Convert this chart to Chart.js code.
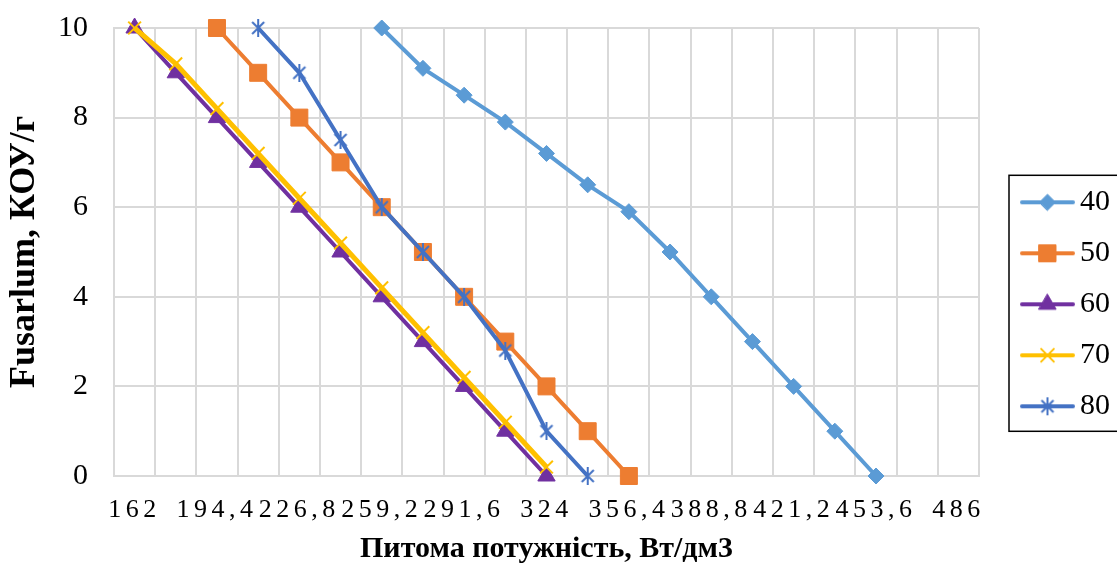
<!DOCTYPE html>
<html lang="uk">
<head>
<meta charset="utf-8">
<title>Fusarium</title>
<script src="https://cdn.jsdelivr.net/npm/chart.js@4.4.1/dist/chart.umd.min.js"></script>
<style>
  html, body { margin: 0; padding: 0; background: #fff; overflow: hidden; }
  #contenedor { width: 1120px; height: 571px; position: relative; }
</style>
</head>
<body>
<div id="contenedor"><canvas id="grafico"></canvas></div>
<script>
// categorías del eje X (питома потужність)
const categorias = [162, 178.2, 194.4, 210.6, 226.8, 243, 259.2, 275.4, 291.6, 307.8, 324,
    340.2, 356.4, 372.6, 388.8, 405, 421.2, 437.4, 453.6, 469.8, 486];

// Fusarium, КОУ/г para cada serie
const serie40 = [null, null, null, null, null, null, 10, 9.1, 8.5, 7.9, 7.2, 6.5, 5.9, 5, 4, 3, 2, 1, 0, null, null];
const serie50 = [null, null, 10, 9, 8, 7, 6, 5, 4, 3, 2, 1, 0, null, null, null, null, null, null, null, null];
const serie60 = [10, 9, 8, 7, 6, 5, 4, 3, 2, 1, 0, null, null, null, null, null, null, null, null, null, null];
const serie70 = [10, 9.2, 8.2, 7.2, 6.2, 5.2, 4.2, 3.2, 2.2, 1.2, 0.2, null, null, null, null, null, null, null, null, null, null];
const serie80 = [null, null, null, 10, 9, 7.5, 6, 5, 4, 2.8, 1, 0, null, null, null, null, null, null, null, null, null];

const nombres = ['40', '50', '60', '70', '80'];
const series = [serie40, serie50, serie60, serie70, serie80];

const colores = ['#5B9BD5', '#ED7D31', '#7030A0', '#FFC000', '#4472C4'];
const gris = '#d9d9d9';
const fuente = "'Liberation Serif', 'Times New Roman', serif";

Chart.defaults.font.family = fuente;
Chart.defaults.color = '#000';

// marcador tipo asterisco de Excel (X + línea vertical)
function crearAsterisco(color) {
    const c = document.createElement('canvas');
    c.width = 18;
    c.height = 18;
    const g = c.getContext('2d');
    g.strokeStyle = color;
    g.lineWidth = 2;
    g.beginPath();
    g.moveTo(3, 3); g.lineTo(15, 15);
    g.moveTo(15, 3); g.lineTo(3, 15);
    g.moveTo(9, 0); g.lineTo(9, 18);
    g.stroke();
    return c;
}

const marcadores = [
    { pointStyle: 'rectRot', radius: 8, borderWidth: 1 },
    { pointStyle: 'rect', radius: 12, borderWidth: 1 },
    { pointStyle: 'triangle', radius: 10, borderWidth: 1 },
    { pointStyle: 'crossRot', radius: 9, borderWidth: 2 },
    { pointStyle: crearAsterisco(colores[4]), radius: 9, borderWidth: 1 }
];

// icono de la leyenda: línea con el marcador en medio
function crearIcono(i) {
    const c = document.createElement('canvas');
    c.width = 85;
    c.height = 26;
    const g = c.getContext('2d');
    g.strokeStyle = colores[i];
    g.fillStyle = colores[i];
    g.lineWidth = 4;
    g.lineCap = 'round';
    g.beginPath();
    g.moveTo(32, 13);
    g.lineTo(83, 13);
    g.stroke();
    g.lineWidth = marcadores[i].borderWidth;
    Chart.helpers.drawPoint(g, {
        pointStyle: marcadores[i].pointStyle,
        radius: marcadores[i].radius,
        borderWidth: marcadores[i].borderWidth,
        rotation: 0
    }, 57.5, 13);
    return c;
}

const datasets = series.map((datos, i) => ({
    label: nombres[i],
    data: datos,
    borderColor: colores[i],
    backgroundColor: colores[i],
    borderWidth: i === 3 ? 5 : 4,
    tension: 0,
    pointStyle: marcadores[i].pointStyle,
    pointRadius: marcadores[i].radius,
    pointBorderWidth: marcadores[i].borderWidth,
    pointBackgroundColor: colores[i],
    pointBorderColor: colores[i],
    order: 5 - i,
    clip: false
}));

const iconos = datasets.map((d, i) => crearIcono(i));

// espaciado entre letras solo para las etiquetas del eje X
const espaciado = {
    id: 'espaciado',
    afterLayout(chart) {
        const eje = chart.scales.x;
        if (!eje || eje._espaciado) return;
        const original = eje.drawLabels;
        eje.drawLabels = function (area) {
            this.ctx.save();
            this.ctx.letterSpacing = '4.5px';
            original.call(this, area);
            this.ctx.restore();
        };
        eje._espaciado = true;
    }
};

// marco negro alrededor de la leyenda
const bordeLeyenda = {
    id: 'bordeLeyenda',
    afterDraw(chart) {
        const cajas = chart.legend.legendHitBoxes;
        if (!cajas || !cajas.length) return;
        const primera = cajas[0];
        const ultima = cajas[cajas.length - 1];
        const ctx = chart.ctx;
        ctx.save();
        ctx.strokeStyle = '#000';
        ctx.lineWidth = 1.5;
        ctx.strokeRect(primera.left + 9, primera.top - 12, 200, ultima.top + ultima.height - primera.top + 22);
        ctx.restore();
    }
};

const grafico = new Chart(document.getElementById('grafico'), {
    type: 'line',
    data: {
        labels: categorias,
        datasets: datasets
    },
    options: {
        responsive: true,
        maintainAspectRatio: false,
        animation: false,
        layout: { padding: { top: 28, right: 0, bottom: 0, left: 0 } },
        plugins: {
            tooltip: { enabled: false },
            legend: {
                position: 'right',
                title: { display: true, text: ' ', font: { size: 8 }, padding: 0 },
                labels: {
                    usePointStyle: true,
                    pointStyleWidth: 65,
                    padding: 21,
                    color: '#000',
                    font: { size: 30 },
                    generateLabels: (chart) => chart.data.datasets.map((ds, i) => ({
                        text: ds.label,
                        pointStyle: iconos[i],
                        datasetIndex: i,
                        hidden: false,
                        fillStyle: ds.borderColor,
                        strokeStyle: ds.borderColor,
                        lineWidth: 0
                    }))
                }
            }
        },
        scales: {
            x: {
                type: 'category',
                offset: true,
                grid: { offset: true, color: gris, lineWidth: 2, drawTicks: false },
                border: { color: gris, width: 2 },
                ticks: {
                    autoSkip: false,
                    maxRotation: 0,
                    padding: 19,
                    color: '#000',
                    font: { size: 26 },
                    callback: (valor, indice) => indice % 2 === 0 ? String(categorias[indice]).replace('.', ',') : ''
                },
                title: {
                    display: true,
                    text: 'Питома потужність, Вт/дм3',
                    color: '#000',
                    font: { size: 30, weight: 'bold' },
                    padding: { top: 0, bottom: 4 }
                },
                afterFit: (eje) => { eje.height = 95; }
            },
            y: {
                min: 0,
                max: 10,
                // marcas invisibles para separar las etiquetas del eje
                grid: { color: gris, lineWidth: 2, drawTicks: true, tickLength: 20, tickColor: 'rgba(0,0,0,0)' },
                border: { color: gris, width: 2 },
                ticks: {
                    stepSize: 2,
                    padding: 6,
                    color: '#000',
                    font: { size: 30 }
                },
                title: {
                    display: true,
                    text: 'Fusarlum, КОУ/г',
                    color: '#000',
                    font: { size: 36, weight: 'bold' },
                    padding: { top: 3, bottom: 0 }
                },
                afterFit: (eje) => { eje.width = 114; }
            }
        }
    },
    plugins: [espaciado, bordeLeyenda]
});
</script>
</body>
</html>
